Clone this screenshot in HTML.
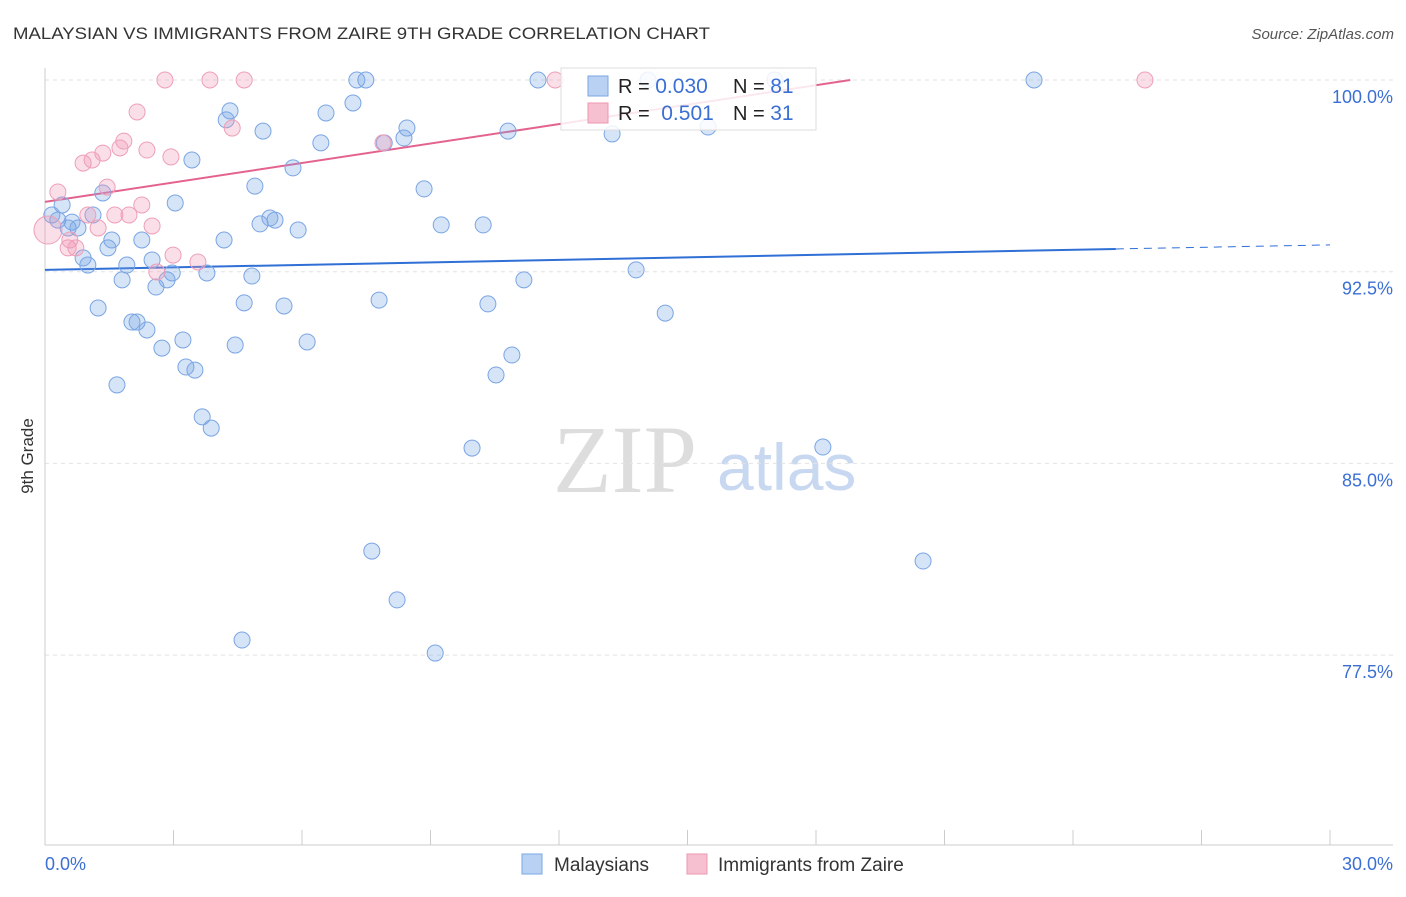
<!DOCTYPE html>
<html><head><meta charset="utf-8"><style>
body{margin:0;background:#fff;font-family:"Liberation Sans",sans-serif}
</style></head><body>
<svg id="chart" width="1406" height="892" font-family="Liberation Sans, sans-serif">
<text x="13" y="39" font-size="17" fill="#333" textLength="697" lengthAdjust="spacingAndGlyphs">MALAYSIAN VS IMMIGRANTS FROM ZAIRE 9TH GRADE CORRELATION CHART</text>
<text x="1394" y="39" font-size="15" fill="#555" font-style="italic" text-anchor="end">Source: ZipAtlas.com</text>
<text x="33" y="456" font-size="17" fill="#333" text-anchor="middle" transform="rotate(-90 33 456)">9th Grade</text>
<g>
<text x="553" y="492" font-size="96" style="font-family:'Liberation Serif',serif" fill="#ddd">ZIP</text>
<text x="717" y="490" font-size="66" fill="#c8d8f0">atlas</text>
</g>
<g id="grid"></g><g id="axes"></g><g id="lines"></g><g id="pts"></g>
<g>
<rect x="561" y="68" width="255" height="62" fill="#fff" fill-opacity="0.85" stroke="#ddd"/>
<rect x="588" y="76" width="20" height="20" fill="#b9d2f3" stroke="#7aa5e3"/>
<rect x="588" y="103" width="20" height="20" fill="#f7c0d0" stroke="#ee97b2"/>
<text x="618" y="93" font-size="20" fill="#222">R = <tspan fill="#3b6fd4" font-size="21">0.030</tspan></text>
<text x="733" y="93" font-size="20" fill="#222">N = <tspan fill="#3b6fd4" font-size="21">81</tspan></text>
<text x="618" y="120" font-size="20" fill="#222">R = <tspan fill="#3b6fd4" dx="6" font-size="21">0.501</tspan></text>
<text x="733" y="120" font-size="20" fill="#222">N = <tspan fill="#3b6fd4" font-size="21">31</tspan></text>
</g>
<g>
<rect x="522" y="854" width="20" height="20" fill="#b9d2f3" stroke="#7aa5e3"/>
<text x="554" y="871" font-size="19" fill="#333">Malaysians</text>
<rect x="687" y="854" width="20" height="20" fill="#f7c0d0" stroke="#ee97b2"/>
<text x="718" y="871" font-size="19" fill="#333">Immigrants from Zaire</text>
</g>
</svg>
<script>
const yTicks=[100,92.5,85,77.5];
const yTickLabels=["100.0%","92.5%","85.0%","77.5%"];
const xTickLabels=["0.0%","30.0%"];
const blueX=[0.16,0.30,0.40,0.54,0.63,0.77,0.89,1.00,1.12,1.24,1.35,1.47,1.56,1.68,1.80,1.91,2.03,2.15,2.26,2.38,2.50,2.59,2.73,2.85,2.97,3.04,3.22,3.29,3.43,3.50,3.67,3.78,3.88,4.18,4.23,4.32,4.44,4.60,4.65,4.83,4.90,5.02,5.09,5.25,5.37,5.58,5.79,5.91,6.12,6.44,6.56,7.19,7.28,7.49,7.63,7.80,7.92,8.22,8.38,8.45,8.85,9.11,9.25,9.97,10.23,10.34,10.53,10.81,10.90,11.18,11.51,13.24,13.80,14.08,14.48,15.48,17.04,18.16,20.50,23.09];
const blueY=[94.72,94.52,95.11,94.21,94.44,94.21,93.04,92.76,94.72,91.08,95.58,93.43,93.74,88.07,92.18,92.76,90.53,90.53,93.74,90.22,92.96,91.90,89.51,92.18,92.45,95.19,89.83,88.77,96.87,88.65,86.82,92.45,86.38,93.74,98.44,98.79,89.63,78.09,91.28,92.33,95.85,94.37,98.00,94.60,94.52,91.16,96.56,94.13,89.75,97.54,98.71,99.10,100,100,81.57,91.39,97.54,79.66,97.73,98.12,95.74,77.58,94.33,85.60,94.33,91.24,88.46,98.00,89.24,92.18,100,97.89,92.57,100,90.88,98.16,100,85.64,81.18,100];
const pinkX=[0.07,0.30,0.54,0.58,0.72,0.89,1.00,1.10,1.24,1.35,1.45,1.63,1.75,1.84,1.96,2.15,2.26,2.38,2.50,2.61,2.80,2.94,2.99,3.57,3.85,4.37,4.65,7.89,11.91,25.68];
const pinkY=[94.13,95.62,93.43,93.74,93.43,96.75,94.72,96.87,94.21,97.14,95.81,94.72,97.34,97.61,94.72,98.75,95.11,97.26,94.29,92.49,100,96.99,93.15,92.88,100,98.12,100,97.54,100,100];
const blueTrend=[92.57,93.39,93.55];
const pinkTrend=[95.23,100];
const NS="http://www.w3.org/2000/svg";
const X=v=>45+v*(1285/30), Y=v=>80+(100-v)*25.56;
function mk(tag,attrs,parent){const e=document.createElementNS(NS,tag);for(const k in attrs)e.setAttribute(k,attrs[k]);document.getElementById(parent).appendChild(e);return e;}
yTicks.forEach((t,i)=>{
 const l=mk('line',{x1:45,x2:1393,y1:Y(t),y2:Y(t),stroke:'#e2e2e2','stroke-dasharray':'4 4'},'grid');
 
 
 const tx=mk('text',{x:1393,y:Y(t)+23,'font-size':18,fill:'#3b6fd4','text-anchor':'end'},'grid');
 tx.textContent=yTickLabels[i];
 
 
});
mk('line',{x1:45,x2:45,y1:68,y2:845,stroke:'#ccc'},'axes');
mk('line',{x1:45,x2:1393,y1:845,y2:845,stroke:'#ccc'},'axes');
for(let i=0;i<=10;i++){const t=mk('line',{x1:X(i*3),x2:X(i*3),y1:830,y2:845,stroke:'#ccc'},'axes');
 
 }
const xl0=mk('text',{x:45,y:870,'font-size':18,fill:'#3b6fd4'},'axes');xl0.textContent=xTickLabels[0];


const xl1=mk('text',{x:1393,y:870,'font-size':18,fill:'#3b6fd4','text-anchor':'end'},'axes');xl1.textContent=xTickLabels[1];


blueX.forEach((v,i)=>{const c=mk('circle',{cx:X(v),cy:Y(blueY[i]),r:8,fill:'rgba(120,165,230,0.3)',stroke:'#7aa5e3','stroke-width':1},'pts');
 
 });
pinkX.forEach((v,i)=>{const c=mk('circle',{cx:X(v),cy:Y(pinkY[i]),r:i==0?14:8,fill:'rgba(240,150,180,0.3)',stroke:'#ee9fb8','stroke-width':1},'pts');
 
 });
const bl=mk('line',{x1:X(0),y1:Y(blueTrend[0]),x2:X(25),y2:Y(blueTrend[1]),stroke:'#2f6fd6','stroke-width':2},'lines');


const bd=mk('line',{x1:X(25),y1:Y(blueTrend[1]),x2:X(30),y2:Y(blueTrend[2]),stroke:'#2f6fd6','stroke-width':1,'stroke-dasharray':'8 6'},'lines');


const pl=mk('line',{x1:X(0),y1:Y(pinkTrend[0]),x2:X(18.8),y2:Y(pinkTrend[1]),stroke:'#e4638e','stroke-width':2},'lines');


</script>
</body></html>
